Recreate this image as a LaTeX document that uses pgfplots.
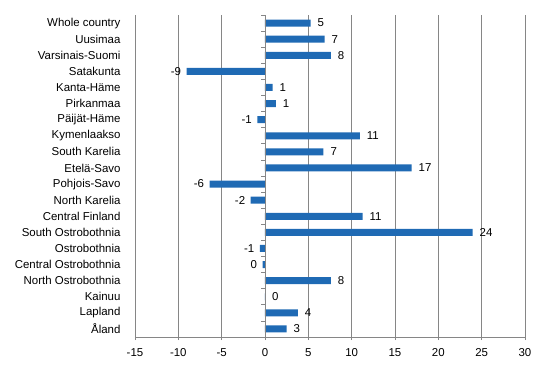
\documentclass[border=0pt]{standalone}
\usepackage{fontspec}
\setmainfont{Liberation Sans}
\usepackage{pgfplots}
\pgfplotsset{compat=1.18}
\usepackage{pgfplotstable}
\definecolor{barblue}{RGB}{31,106,180}
\definecolor{axgray}{RGB}{134,134,134}

\pgfplotstableread{
y x lab
0 5.27 5
1 6.88 7
2 7.6 8
4 0.88 1
5 1.25 1
7 10.94 11
8 6.75 7
9 16.93 17
12 11.26 11
13 23.96 24
16 7.6 8
17 0.0 0
18 3.78 4
19 2.49 3
}\posdata
\pgfplotstableread{
y x lab
3 -9.05 -9
6 -0.88 -1
10 -6.39 -6
11 -1.65 -2
14 -0.6 -1
15 -0.28 0
}\negdata

\begin{document}
\begin{tikzpicture}
\begin{axis}[
  at={(135bp,39bp)}, anchor=south west,
  scale only axis, width=390bp, height=322bp,
  xbar, bar width=7bp, bar shift=0pt,
  xmin=-15, xmax=30, xtick={-15,-10,...,30},
  ymin=-0.5, ymax=19.5, y dir=reverse,
  ytick={0,...,19},
  yticklabels={Whole country,Uusimaa,Varsinais-Suomi,Satakunta,Kanta-Häme,Pirkanmaa,Päijät-Häme,Kymenlaakso,South Karelia,Etelä-Savo,Pohjois-Savo,North Karelia,Central Finland,South Ostrobothnia,Ostrobothnia,Central Ostrobothnia,North Ostrobothnia,Kainuu,Lapland,Åland},
  axis x line*=bottom, axis y line*=left,
  y axis line style={draw=none},
  x axis line style={axgray, line width=0.8pt},
  ytick style={draw=none},
  xtick style={axgray, line width=0.8pt},
  tick align=outside, major tick length=3bp,
  xmajorgrids, grid style={axgray, line width=0.8pt},
  ticklabel style={font=\fontsize{11.5}{13}\selectfont, text=black},
  yticklabel style={xshift=-8bp},
  xticklabel style={yshift=-5bp},
  /pgf/number format/assume math mode=true,
  nodes near coords, point meta=explicit symbolic,
  nodes near coords style={font=\fontsize{11.5}{13}\selectfont, text=black},
]
\addplot[fill=barblue, draw=none, nodes near coords style={anchor=west, xshift=3.5bp}]
  table[x=x, y=y, meta=lab] {\posdata};
\addplot[fill=barblue, draw=none, nodes near coords style={anchor=east, xshift=-2bp}]
  table[x=x, y=y, meta=lab] {\negdata};
\draw[axgray, line width=0.8pt] (axis cs:0,-0.5) -- (axis cs:0,19.5);
\pgfplotsinvokeforeach{-0.5,0.5,...,19.5}{
  \draw[axgray, line width=0.8pt] (axis cs:0,#1) -- ([xshift=-4bp]axis cs:0,#1);
}
\end{axis}
\pgfresetboundingbox
\path (0,0) rectangle (546bp,376bp);
\end{tikzpicture}
\end{document}
